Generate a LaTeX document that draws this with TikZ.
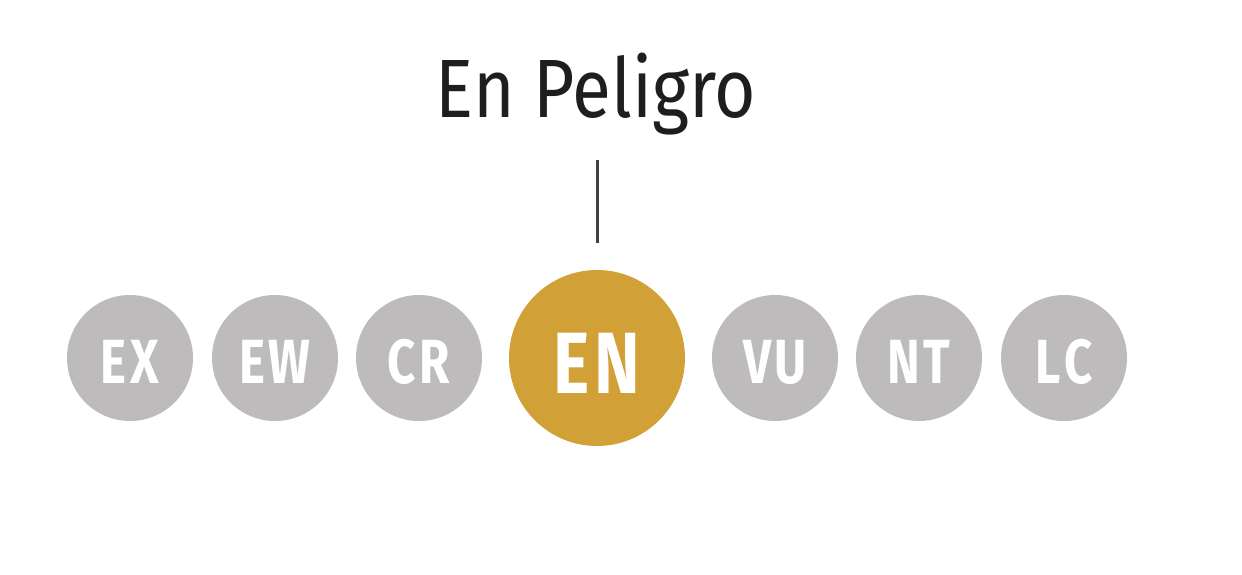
\documentclass[tikz,border=0pt]{standalone}
\usepackage{fontspec}
\setmainfont{Fira Sans}
\usepackage{graphicx}
\definecolor{cgray}{HTML}{BDBBBC}
\definecolor{cgold}{HTML}{D1A137}
\definecolor{ctitle}{HTML}{1E1E1E}
\definecolor{cline}{HTML}{404040}
\tikzset{
  dot/.style={circle, fill=cgray, draw=none, minimum size=126pt, inner sep=0pt},
  bigdot/.style={circle, fill=cgold, draw=none, minimum size=176pt, inner sep=0pt},
  lab/.style={anchor=base, inner sep=0pt, text=white, font=\bfseries\fontsize{62.4}{62.4}\selectfont},
  biglab/.style={anchor=base, inner sep=0pt, text=white, font=\bfseries\fontsize{87}{87}\selectfont},
  ttl/.style={anchor=base, inner sep=0pt, text=ctitle, font=\fontsize{82.7}{82.7}\selectfont},
  tick/.style={draw=cline, line width=3pt}
}
\newcommand{\cond}[1]{\scalebox{0.86}[1]{#1}}
\newcommand{\lbl}[2]{\scalebox{0.79}[1]{#1\kern0.07em#2}}
\begin{document}
\begin{tikzpicture}[x=1pt,y=-1pt]
\useasboundingbox (0,0) rectangle (1242,574);
\node[dot] (EX) at (130,358) {};
\node[dot] (EW) at (275,358) {};
\node[dot] (CR) at (419,358) {};
\node[bigdot] (EN) at (597,358) {};
\node[dot] (VU) at (775,358) {};
\node[dot] (NT) at (919,358) {};
\node[dot] (LC) at (1064,358) {};
\node[lab] (tEX) at (130,383) {\lbl{E}{X}};
\node[lab] (tEW) at (275,383) {\lbl{E}{W}};
\node[lab] (tCR) at (419,383) {\lbl{C}{R}};
\node[biglab] (tEN) at (597,393) {\lbl{E}{N}};
\node[lab] (tVU) at (775,383) {\lbl{V}{U}};
\node[lab] (tNT) at (919,383) {\lbl{N}{T}};
\node[lab] (tLC) at (1064,383) {\lbl{L}{C}};
\node[ttl] (title) at (596,117) {\cond{En Peligro}};
\coordinate (lt) at (597,160);
\coordinate (lb) at (597,243);
\draw[tick] (lt) -- (lb);
\end{tikzpicture}
\end{document}
